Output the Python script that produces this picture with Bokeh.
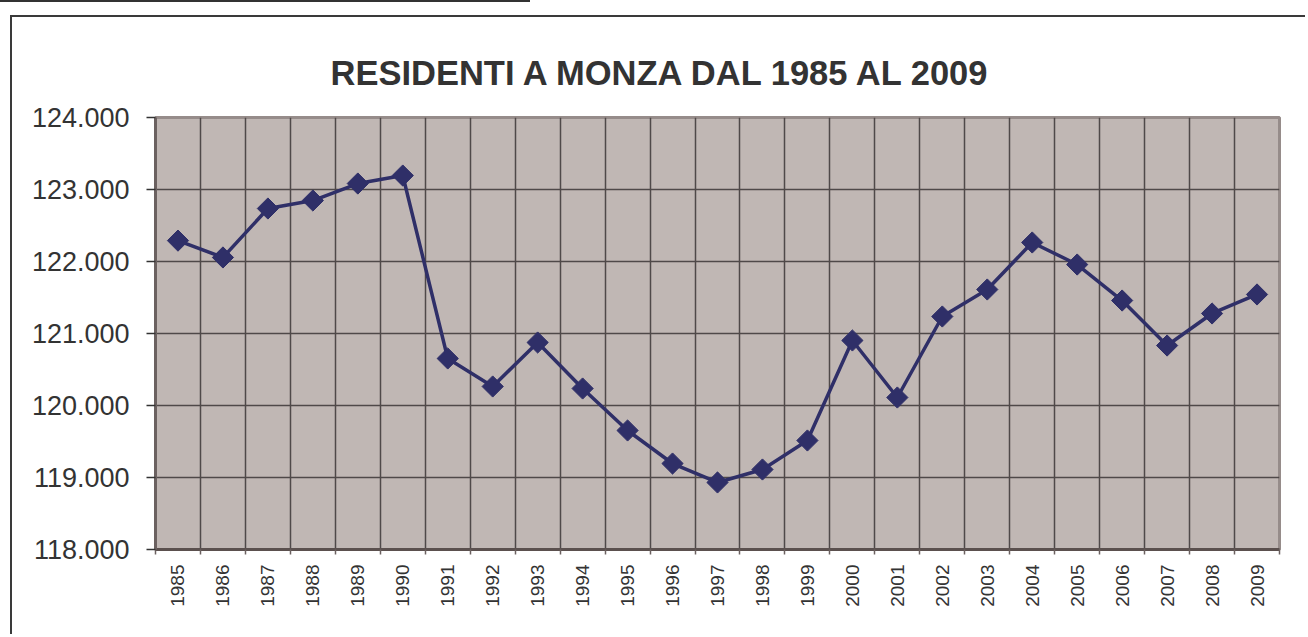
import math
from bokeh.plotting import figure
from bokeh.models import (FactorRange, Range1d, LinearAxis, FixedTicker, Title, Grid)
from bokeh.layouts import column
from bokeh.embed import file_html
from bokeh.resources import INLINE

years = ["1985", "1986", "1987", "1988", "1989", "1990", "1991", "1992", "1993", "1994",
         "1995", "1996", "1997", "1998", "1999", "2000", "2001", "2002", "2003", "2004",
         "2005", "2006", "2007", "2008", "2009"]
residents = [122290, 122056, 122736, 122847, 123083, 123194, 120653, 120264, 120875, 120236,
             119653, 119194, 118931, 119111, 119514, 120903, 120111, 121236, 121611, 122264,
             121958, 121458, 120833, 121278, 121542]
y_ticks = [118000, 119000, 120000, 121000, 122000, 123000, 124000]
y_tick_labels = ["118.000", "119.000", "120.000", "121.000", "122.000", "123.000", "124.000"]
title_text = "RESIDENTI A MONZA DAL 1985 AL 2009"

FONT = "Liberation Sans"
LINE_COLOR = "#2F2F68"

p = figure(width=1295, height=619, x_range=FactorRange(factors=years, range_padding=0),
           y_range=Range1d(y_ticks[0], y_ticks[-1]), x_axis_type=None, y_axis_type=None,
           output_backend="svg", toolbar_location=None,
           min_border_left=143, min_border_right=28, min_border_top=100, min_border_bottom=87)
p.styles = {"border-left": "2px solid #3A3A3A", "border-top": "2px solid #3A3A3A",
            "margin-left": "10px", "margin-top": "15px"}

p.background_fill_color = "#C0B7B4"
p.border_fill_color = "white"
p.outline_line_color = "#968C8A"
p.outline_line_width = 3

# title
p.add_layout(Title(text=title_text, text_font=FONT, text_font_size="34.5px",
                   text_font_style="bold", text_color="#333333", align="left",
                   offset=175, standoff=52), "above")

# y axis
yaxis = LinearAxis(ticker=FixedTicker(ticks=y_ticks))
yaxis.major_label_overrides = {t: lab for t, lab in zip(y_ticks, y_tick_labels)}
yaxis.axis_line_color = "#6B6160"
yaxis.axis_line_width = 3
yaxis.major_tick_out = 9
yaxis.major_tick_in = 0
yaxis.major_tick_line_color = "#333333"
yaxis.major_tick_line_width = 1.5
yaxis.minor_tick_line_color = None
yaxis.major_label_standoff = 17
yaxis.major_label_text_font = FONT
yaxis.major_label_text_font_size = "27px"
yaxis.major_label_text_color = "#333333"
p.add_layout(yaxis, "left")

# x axis: labels at category centres, tick marks at category boundaries
n = len(years)
centres = [i + 0.5 for i in range(n)]
bounds = [float(i) for i in range(n + 1)]
xaxis = LinearAxis(ticker=FixedTicker(ticks=centres, minor_ticks=bounds))
xaxis.major_label_overrides = {c: y for c, y in zip(centres, years)}
xaxis.axis_line_color = "#5B504E"
xaxis.axis_line_width = 3
xaxis.major_tick_out = 0
xaxis.major_tick_in = 0
xaxis.major_tick_line_color = None
xaxis.minor_tick_out = 5
xaxis.minor_tick_in = 0
xaxis.minor_tick_line_color = "#6B6160"
xaxis.minor_tick_line_width = 1.5
xaxis.major_label_orientation = math.pi / 2
xaxis.major_label_standoff = 10
xaxis.major_label_text_font = FONT
xaxis.major_label_text_font_size = "19px"
xaxis.major_label_text_color = "#333333"
p.add_layout(xaxis, "below")

# grids
p.add_layout(Grid(dimension=0, ticker=FixedTicker(ticks=bounds),
                  grid_line_color="#4F4949", grid_line_width=1.5))
p.add_layout(Grid(dimension=1, ticker=FixedTicker(ticks=y_ticks),
                  grid_line_color="#4F4949", grid_line_width=1.5))

# data
p.line(x=years, y=residents, line_color=LINE_COLOR, line_width=3.5)
p.scatter(x=years, y=residents, marker="square", angle=math.pi / 4, size=15,
          fill_color=LINE_COLOR, line_color=LINE_COLOR)

layout = column(p, styles={"background-image": "linear-gradient(#333333, #333333)",
                           "background-size": "530px 2px",
                           "background-repeat": "no-repeat",
                           "background-position": "0 0"})

open("out.html", "w").write(file_html(layout, INLINE))
